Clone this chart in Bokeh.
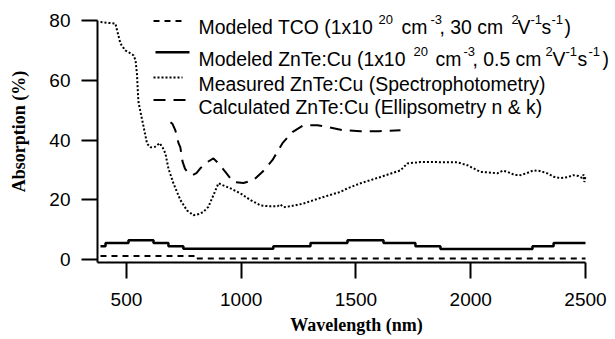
from bokeh.plotting import figure
from bokeh.models import Range1d, Label, Title
from bokeh.embed import file_html
from bokeh.resources import INLINE

# ---------------- data ----------------
meas_wl = [387, 420, 452, 460, 474, 495, 510, 532, 540, 546, 552, 561, 575, 590,
           605, 625, 645, 658, 670, 683, 705, 735, 764, 792, 815, 835, 857, 879,
           901, 918, 953, 997, 1040, 1084, 1120, 1158, 1170, 1185, 1215, 1271,
           1358, 1432, 1463, 1520, 1607, 1694, 1724, 1781, 1942, 1986, 2042, 2080,
           2116, 2140, 2160, 2190, 2217, 2245, 2273, 2300, 2334, 2360, 2391, 2420,
           2448, 2470, 2485, 2492, 2495, 2500]
meas_abs = [79.5, 79.2, 79.0, 76.5, 72.3, 70.0, 69.4, 68.3, 66.5, 62.0, 53.0, 49.5,
            44.4, 38.8, 37.6, 37.8, 39.0, 37.5, 35.5, 30.5, 25.5, 20.0, 16.5, 14.9,
            15.3, 16.0, 17.7, 21.6, 25.6, 25.0, 23.9, 22.2, 20.0, 18.2, 17.9, 17.9,
            18.5, 17.6, 17.9, 18.8, 21.0, 22.7, 23.9, 25.6, 27.7, 29.9, 32.2, 32.7,
            32.6, 31.6, 29.4, 29.2, 28.9, 29.8, 29.4, 28.4, 28.3, 29.0, 29.9, 29.7,
            28.9, 27.8, 27.3, 27.6, 28.3, 28.0, 27.4, 28.5, 26.0, 28.0]

calc_wl = [692, 700, 713, 727, 735, 744, 755, 766, 788, 805, 822, 853, 879, 901,
           931, 966, 1010, 1053, 1093, 1136, 1180, 1223, 1271, 1332, 1376, 1446,
           1520, 1600, 1694]
calc_abs = [46.0, 45.5, 43.3, 39.0, 37.6, 33.0, 30.5, 29.4, 28.3, 29.0, 30.6, 32.7,
            33.9, 32.2, 29.4, 26.0, 25.7, 26.6, 29.4, 33.3, 39.0, 42.7, 45.0, 45.0,
            44.4, 43.3, 43.0, 43.0, 43.3]

znte_wl = [387, 409, 509, 618, 683, 748, 1140, 1302, 1463, 1620, 1759, 1868, 2269, 2361, 2500]
znte_abs = [4.5, 5.6, 6.5, 5.6, 4.5, 3.7, 4.5, 5.6, 6.5, 5.6, 4.5, 3.6, 4.5, 5.6, 5.6]

tco_wl = [387, 800, 2500]
tco_abs = [1.3, 0.4, 0.4]

x_ticks = [500, 1000, 1500, 2000, 2500]
y_ticks = [0, 20, 40, 60, 80]
x_axis_end = (374, 2500)
y_axis_end = (-0.9, 80)

# ---------------- geometry (page pixels) ----------------
W, H = 615, 339
FL, FR, FT, FB = 97, 615, 0, 262          # frame edges
AX_R, AX_T = 585, 20                       # where the axes end (2500 nm, 80 %)
kx = (x_axis_end[1] - x_axis_end[0]) / (AX_R - FL)
ky = (y_axis_end[1] - y_axis_end[0]) / (FB - AX_T)
X0 = x_axis_end[0]
X1 = x_axis_end[0] + (FR - FL) * kx
Y0 = y_axis_end[0]
Y1 = y_axis_end[0] + (FB - FT) * ky

def dx(px):
    return X0 + (px - FL) * kx

def dy(py):
    return Y0 + (FB - py) * ky

p = figure(width=W, height=H, output_backend="svg", toolbar_location=None,
           x_range=Range1d(X0, X1), y_range=Range1d(Y0, Y1),
           min_border_left=FL, min_border_right=W - FR, min_border_top=FT,
           min_border_bottom=H - FB)
p.outline_line_color = None
p.grid.visible = False
p.background_fill_color = "white"

for ax in (p.xaxis[0], p.yaxis[0]):
    ax.axis_line_width = 2
    ax.axis_line_color = "black"
    ax.major_tick_line_width = 2
    ax.major_tick_line_color = "black"
    ax.major_tick_out = 16
    ax.major_tick_in = 0
    ax.minor_tick_out = 0
    ax.minor_tick_in = 0
    ax.major_label_text_font = "Liberation Sans"
    ax.major_label_text_font_size = "19px"
    ax.major_label_text_color = "black"
    ax.axis_label_text_font = "Liberation Serif"
    ax.axis_label_text_font_style = "bold"
    ax.axis_label_text_font_size = "18px"
    ax.axis_label_text_color = "black"

p.xaxis.ticker = x_ticks
p.yaxis.ticker = y_ticks
p.xaxis.bounds = x_axis_end
p.yaxis.bounds = y_axis_end
p.yaxis.axis_label = "Absorption (%)"
p.xaxis.major_label_standoff = 14
p.yaxis.major_label_standoff = 11
p.yaxis.axis_label_standoff = 17

p.add_layout(Title(text="Wavelength (nm)", align="center", offset=-11,
                   text_font="Liberation Serif", text_font_style="bold",
                   text_font_size="18px", text_color="black", standoff=9), "below")

# ---------------- series ----------------
p.step(tco_wl, tco_abs, mode="after", line_color="black", line_width=2, line_dash="6 5")
p.step(znte_wl, znte_abs, mode="after", line_color="black", line_width=2.5)
p.line(meas_wl, meas_abs, line_color="black", line_width=2, line_dash="2 2")
p.line(calc_wl, calc_abs, line_color="black", line_width=2, line_dash="12 8")

# ---------------- legend ----------------
sw = [(153, 182, 20.5, dict(line_width=2, line_dash="6 5")),
      (155, 189, 51.7, dict(line_width=2.5)),
      (153, 182, 77.0, dict(line_width=2, line_dash="2 2")),
      (153, 187, 99.5, dict(line_width=2, line_dash="12 8"))]
for x_a, x_b, yy, st in sw:
    p.line([dx(x_a), dx(x_b)], [dy(yy), dy(yy)], line_color="black", **st)

MAIN = "19.4px"
SUP = "13px"

def txt(s, px, py, size=MAIN):
    p.add_layout(Label(x=dx(px), y=dy(py), text=s, text_font="Liberation Sans",
                       text_font_size=size, text_color="black",
                       text_align="left", text_baseline="alphabetic"))

# row 1
b1 = 26.5
s1 = b1 - 7.5
txt("Modeled TCO (1x10", 198, b1)
txt("20", 378, s1, SUP)
txt("cm", 401, b1)
txt("-3", 430, s1, SUP)
txt(", 30 cm", 439, b1)
txt("2", 511, s1, SUP)
txt("V", 517, b1)
txt("-1", 530, s1, SUP)
txt("s", 541, b1)
txt("-1", 551, s1, SUP)
txt(")", 564, b1)

# row 2
b2 = 58.5
s2 = b2 - 7.5
txt("Modeled ZnTe:Cu (1x10", 198, b2)
txt("20", 413, s2, SUP)
txt("cm", 435, b2)
txt("-3", 463, s2, SUP)
txt(", 0.5 cm", 472, b2)
txt("2", 545, s2, SUP)
txt("V", 552, b2)
txt("-1", 565, s2, SUP)
txt("s", 577, b2)
txt("-1", 588, s2, SUP)
txt(")", 602, b2)

# rows 3, 4
txt("Measured ZnTe:Cu (Spectrophotometry)", 198, 83)
txt("Calculated ZnTe:Cu (Ellipsometry n & k)", 198, 106)

open("out.html", "w").write(file_html(p, INLINE))
